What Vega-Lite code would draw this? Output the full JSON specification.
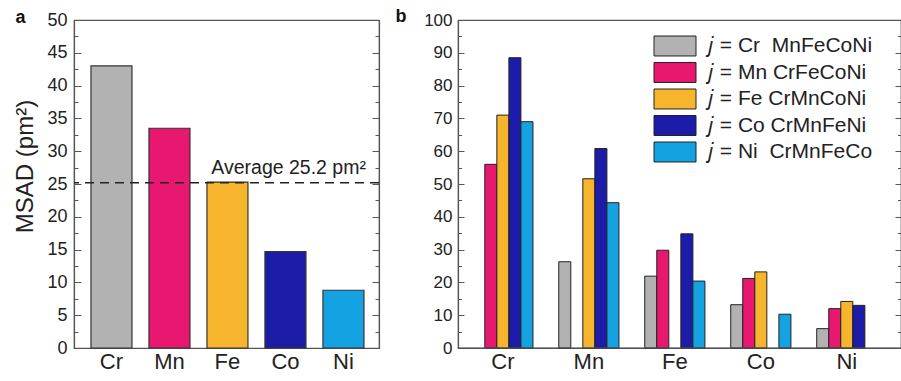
{
  "$schema": "https://vega.github.io/schema/vega-lite/v6.json",
  "background": "white",
  "padding": {"left": 13, "top": 6, "right": 0, "bottom": 0},
  "bounds": "flush",
  "spacing": 79,
  "config": {
    "view": {"stroke": "#555", "strokeWidth": 1.2},
    "font": "Liberation Sans",
    "axis": {"domainColor": "#555", "domainWidth": 1.2, "tickColor": "#555", "labelColor": "#222", "titleColor": "#222", "labelFont": "Liberation Sans", "titleFont": "Liberation Sans", "grid": false}
  },
  "resolve": {"scale": {"color": "independent"}, "legend": {"color": "independent"}},
  "datasets": {
    "msad": [
      {"el": "Cr", "v": 43.0},
      {"el": "Mn", "v": 33.5},
      {"el": "Fe", "v": 25.3},
      {"el": "Co", "v": 14.7},
      {"el": "Ni", "v": 8.8}
    ],
    "avg": [{"avg": 25.2, "el": "Ni", "label": "Average 25.2 pm²"}],
    "contrib": [
      {"el": "Cr", "j": "Mn", "v": 56.0},
      {"el": "Cr", "j": "Fe", "v": 71.0},
      {"el": "Cr", "j": "Co", "v": 88.5},
      {"el": "Cr", "j": "Ni", "v": 69.0},
      {"el": "Mn", "j": "Cr", "v": 26.3},
      {"el": "Mn", "j": "Fe", "v": 51.6},
      {"el": "Mn", "j": "Co", "v": 60.8},
      {"el": "Mn", "j": "Ni", "v": 44.3},
      {"el": "Fe", "j": "Cr", "v": 21.9},
      {"el": "Fe", "j": "Mn", "v": 29.8},
      {"el": "Fe", "j": "Co", "v": 34.8},
      {"el": "Fe", "j": "Ni", "v": 20.4},
      {"el": "Co", "j": "Cr", "v": 13.2},
      {"el": "Co", "j": "Mn", "v": 21.2},
      {"el": "Co", "j": "Fe", "v": 23.2},
      {"el": "Co", "j": "Ni", "v": 10.3},
      {"el": "Ni", "j": "Cr", "v": 5.9},
      {"el": "Ni", "j": "Mn", "v": 12.0},
      {"el": "Ni", "j": "Fe", "v": 14.2},
      {"el": "Ni", "j": "Co", "v": 13.0}
    ],
    "zero": [{"z": 0}]
  },
  "hconcat": [
    {
      "width": 305,
      "height": 328,
      "layer": [
        {
          "data": {"name": "msad"},
          "mark": {"type": "bar", "stroke": "#333", "strokeWidth": 1.2},
          "encoding": {
            "x": {"field": "el", "type": "nominal", "sort": ["Cr", "Mn", "Fe", "Co", "Ni"],
              "scale": {"paddingInner": 0.293, "paddingOuter": 0.276, "align": 0.53},
              "axis": {"title": "a", "titleX": -59, "titleY": -326, "titleAlign": "left", "titleAnchor": null, "titleBaseline": "alphabetic", "titleFontSize": 18, "titleFontWeight": "bold", "titleColor": "#111",
                "labelAngle": 0, "ticks": false, "labelFontSize": 22, "labelPadding": 3}},
            "y": {"field": "v", "type": "quantitative", "scale": {"domain": [0, 50], "nice": false},
              "axis": {"title": "MSAD (pm²)", "titleFontSize": 24, "titleFontWeight": "normal", "titlePadding": 9, "titleY": 146,
                "values": [0, 2.5, 5, 7.5, 10, 12.5, 15, 17.5, 20, 22.5, 25, 27.5, 30, 32.5, 35, 37.5, 40, 42.5, 45, 47.5, 50],
                "labelExpr": "datum.value % 5 === 0 ? datum.label : ''",
                "labelFontSize": 18, "labelPadding": 14,
                "tickSize": {"condition": {"test": "datum.value % 5 === 0", "value": -7}, "value": -4}}},
            "color": {"field": "el", "type": "nominal",
              "scale": {"domain": ["Cr", "Mn", "Fe", "Co", "Ni"], "range": ["#b2b2b2", "#e8176f", "#f7b52d", "#1c1ca8", "#15a2e2"]},
              "legend": null}
          }
        },
        {
          "data": {"name": "avg"},
          "mark": {"type": "rule", "strokeDash": [9, 6], "strokeWidth": 1.6, "color": "#222"},
          "encoding": {
            "y": {"field": "avg", "type": "quantitative",
              "axis": {"orient": "right", "title": null, "labels": false,
                "values": [0, 2.5, 5, 7.5, 10, 12.5, 15, 17.5, 20, 22.5, 25, 27.5, 30, 32.5, 35, 37.5, 40, 42.5, 45, 47.5, 50],
                "tickSize": {"condition": {"test": "datum.value % 5 === 0", "value": -7}, "value": -4}}}
          }
        },
        {
          "data": {"name": "avg"},
          "mark": {"type": "text", "align": "right", "baseline": "alphabetic", "dy": -9, "dx": 2, "fontSize": 19.5, "color": "#222", "font": "Liberation Sans"},
          "encoding": {
            "x": {"field": "el", "type": "nominal", "sort": ["Cr", "Mn", "Fe", "Co", "Ni"], "bandPosition": 1},
            "y": {"field": "avg", "type": "quantitative", "axis": null},
            "text": {"field": "label"}
          }
        }
      ],
      "resolve": {"axis": {"y": "independent"}}
    },
    {
      "width": 443,
      "height": 328,
      "layer": [
        {
          "data": {"name": "contrib"},
          "mark": {"type": "bar", "stroke": "#222", "strokeWidth": 1},
          "encoding": {
            "x": {"field": "el", "type": "nominal", "sort": ["Cr", "Mn", "Fe", "Co", "Ni"],
              "scale": {"paddingInner": 0.3, "paddingOuter": 0.226, "align": 0.38},
              "axis": {"title": "b", "titleX": -63, "titleY": -327, "titleAlign": "left", "titleAnchor": null, "titleBaseline": "alphabetic", "titleFontSize": 18, "titleFontWeight": "bold", "titleColor": "#111",
                "labelAngle": 0, "ticks": false, "labelFontSize": 22, "labelPadding": 3}},
            "xOffset": {"field": "j", "type": "nominal", "sort": ["Cr", "Mn", "Fe", "Co", "Ni"],
              "scale": {"domain": ["Cr", "Mn", "Fe", "Co", "Ni"], "paddingInner": 0, "paddingOuter": 0}},
            "y": {"field": "v", "type": "quantitative", "scale": {"domain": [0, 100], "nice": false},
              "axis": {"title": null,
                "values": [0, 5, 10, 15, 20, 25, 30, 35, 40, 45, 50, 55, 60, 65, 70, 75, 80, 85, 90, 95, 100],
                "labelExpr": "datum.value % 10 === 0 ? datum.label : ''",
                "labelFontSize": 17, "labelPadding": 12,
                "tickSize": {"condition": {"test": "datum.value % 10 === 0", "value": -6}, "value": -3.5}}},
            "color": {"field": "j", "type": "nominal",
              "scale": {"domain": ["Cr", "Mn", "Fe", "Co", "Ni"], "range": ["#b2b2b2", "#e8176f", "#f7b52d", "#1c1ca8", "#15a2e2"]},
              "legend": {"orient": "none", "legendX": 206, "legendY": 15, "title": null, "padding": 0,
                "symbolType": "M-2,-0.95H2V0.95H-2Z", "symbolSize": 441, "symbolStrokeColor": "#222", "symbolStrokeWidth": 1, "symbolOpacity": 1,
                "labelFontSize": 21, "labelFont": "Liberation Sans", "labelColor": "#222", "labelOffset": 21, "rowPadding": 2.5, "labelLimit": 400,
                "labelExpr": "datum.value === 'Cr' ? '𝑗 = Cr\u00a0 MnFeCoNi' : datum.value === 'Mn' ? '𝑗 = Mn CrFeCoNi' : datum.value === 'Fe' ? '𝑗 = Fe CrMnCoNi' : datum.value === 'Co' ? '𝑗 = Co CrMnFeNi' : '𝑗 = Ni\u00a0 CrMnFeCo'"}}
          }
        },
        {
          "data": {"name": "zero"},
          "mark": {"type": "rule", "color": "#555", "strokeWidth": 1.2},
          "encoding": {
            "y": {"field": "z", "type": "quantitative",
              "axis": {"orient": "right", "title": null, "labels": false,
                "values": [0, 5, 10, 15, 20, 25, 30, 35, 40, 45, 50, 55, 60, 65, 70, 75, 80, 85, 90, 95, 100],
                "tickSize": {"condition": {"test": "datum.value % 10 === 0", "value": -6}, "value": -3.5}}}
          }
        }
      ],
      "resolve": {"axis": {"y": "independent"}}
    }
  ]
}
